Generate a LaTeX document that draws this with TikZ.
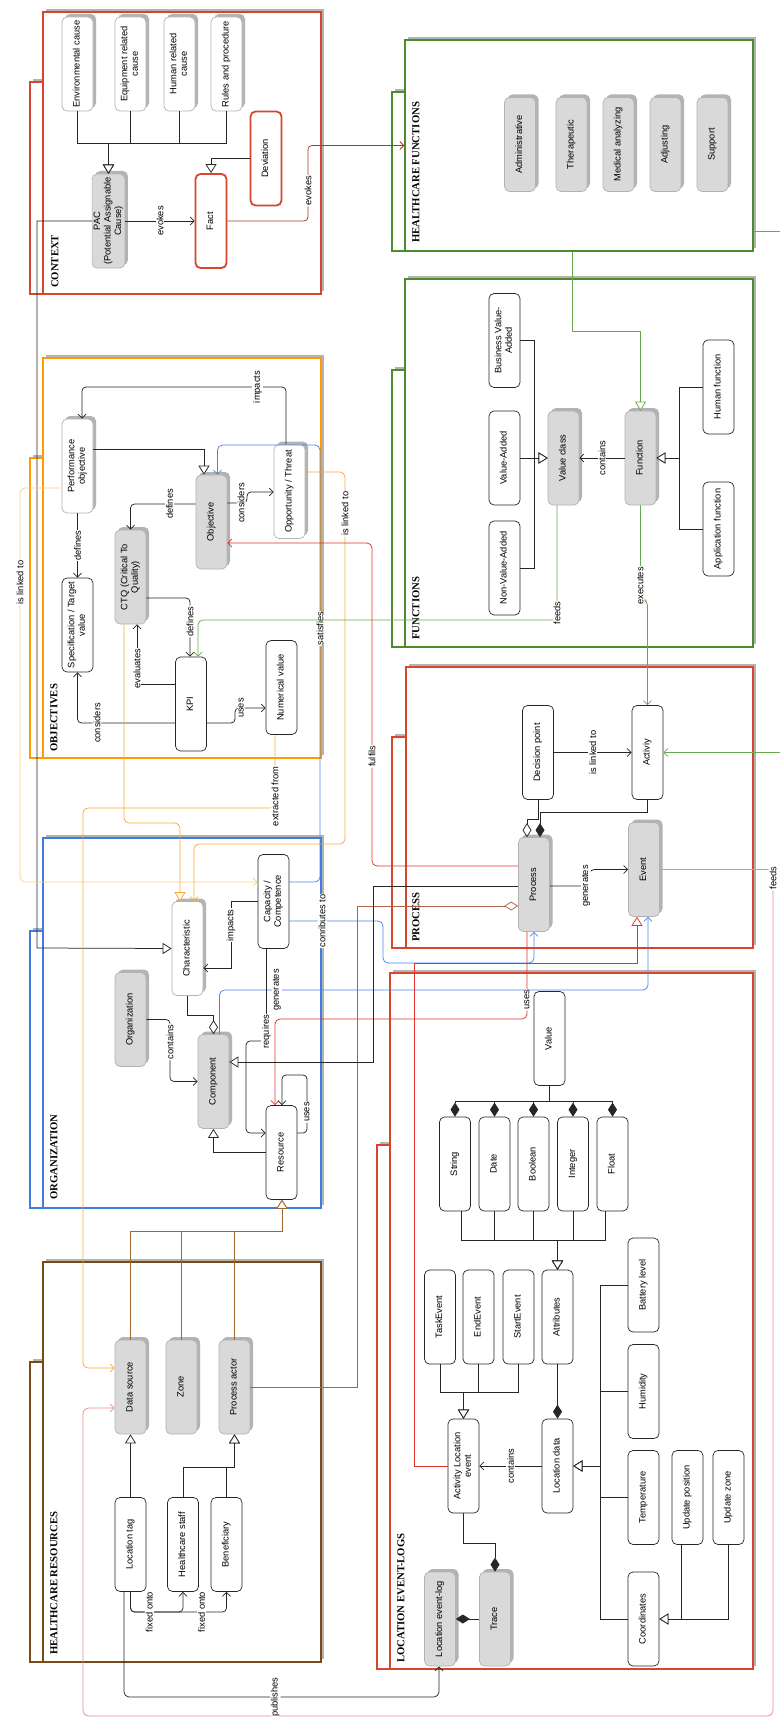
\documentclass[tikz,border=0pt]{standalone}
\usepackage{fontspec}
\setmainfont{Liberation Sans}
\newfontfamily\lanefont{Liberation Serif}
\usepackage{graphicx}
\usetikzlibrary{arrows.meta,shadows}
\definecolor{boxred}{HTML}{D6452C}
\definecolor{boxgreen}{HTML}{4E8A2E}
\definecolor{boxblue}{HTML}{3F7CE0}
\definecolor{boxorange}{HTML}{FF9A00}
\definecolor{boxbrown}{HTML}{7A4A14}
\definecolor{lnred}{HTML}{E0342A}
\definecolor{lnlightred}{HTML}{EE8A8A}
\definecolor{lnevokes}{HTML}{A83A2C}
\definecolor{lnbrownred}{HTML}{B0604A}
\definecolor{lngreen}{HTML}{6AA84F}
\definecolor{lnblue}{HTML}{4A86E8}
\definecolor{lnorange}{HTML}{FFA833}
\definecolor{lnlightorange}{HTML}{FFCB80}
\definecolor{lnbrown}{HTML}{A0672D}
\definecolor{nodegray}{HTML}{D9D9D9}
\definecolor{boxshade}{HTML}{B3B3B3}
\newcommand{\nodefont}{\fontsize{9.3}{10.6}\selectfont}
\newcommand{\rottext}[1]{\rotatebox{90}{\begin{tabular}{@{}c@{}}#1\end{tabular}}}

\begin{document}
\begin{tikzpicture}[x=1pt, y=-1pt, font=\nodefont,
    ent/.style={draw=black!85, fill=white, rounded corners=5pt, line width=0.7pt, minimum width=31pt, minimum height=94pt, inner sep=0.5pt},
    shent/.style={ent, draw=black!30, drop shadow={shadow xshift=3pt, shadow yshift=3pt, fill=boxshade, opacity=1}},
    grent/.style={shent, fill=nodegray},
    redent/.style={ent, draw=boxred, line width=1.8pt},
    lane/.style={draw=#1, fill=white, line width=1.4pt, inner sep=0pt, drop shadow={shadow xshift=3pt, shadow yshift=3pt, fill=boxshade, opacity=1}},
    lanetitle/.style={rotate=90, anchor=west, inner sep=0pt, font=\lanefont\bfseries\fontsize{10.7}{12}\selectfont},
    lbl/.style={fill=white, text=black, inner sep=1pt, rotate=90},
    assoc/.style={line width=0.75pt, draw=black!85, -{Straight Barb[length=4pt,width=8pt]}},
    gen/.style={line width=0.75pt, draw=black!85, -{Triangle[length=9pt,width=11pt,fill=white]}},
    aggr/.style={line width=0.75pt, draw=black!85, -{Diamond[length=14pt,width=9pt,fill=white]}},
    comp/.style={line width=0.75pt, draw=black!85, -{Diamond[length=14pt,width=9pt]}}]
    \useasboundingbox (0,0) rectangle (779,1720);

    \node[lane=boxred, minimum width=13pt, minimum height=212pt] (ctxtab) at (36.5,188) {};
    \node[lane=boxred, minimum width=278pt, minimum height=282pt] (ctxlane) at (182,153) {};
    \node[lanetitle] (ctxtitle) at (55,288) {CONTEXT};
    \node[lane=boxorange, minimum width=13pt, minimum height=300pt] (objtab) at (36.5,608) {};
    \node[lane=boxorange, minimum width=278pt, minimum height=400pt] (objlane) at (182,558) {};
    \node[lanetitle] (objtitle) at (54,752) {OBJECTIVES};
    \node[lane=boxblue, minimum width=13pt, minimum height=277pt] (orgtab) at (36.5,1069.5) {};
    \node[lane=boxblue, minimum width=278pt, minimum height=370pt] (orglane) at (182,1023) {};
    \node[lanetitle] (orgtitle) at (54,1200) {ORGANIZATION};
    \node[lane=boxbrown, minimum width=13pt, minimum height=300pt] (hrtab) at (36.5,1512) {};
    \node[lane=boxbrown, minimum width=278pt, minimum height=400pt] (hrlane) at (182,1462) {};
    \node[lanetitle] (hrtitle) at (54,1655) {HEALTHCARE RESOURCES};
    \node[lane=boxgreen, minimum width=13pt, minimum height=159pt] (hftab) at (398.5,171.5) {};
    \node[lane=boxgreen, minimum width=348pt, minimum height=211pt] (hflane) at (579,145.5) {};
    \node[lanetitle] (hftitle) at (416,243) {HEALTHCARE FUNCTIONS};
    \node[lane=boxgreen, minimum width=13pt, minimum height=277pt] (funtab) at (398.5,508.5) {};
    \node[lane=boxgreen, minimum width=348pt, minimum height=368pt] (funlane) at (579,463) {};
    \node[lanetitle] (funtitle) at (416,640) {FUNCTIONS};
    \node[lane=boxred, minimum width=14pt, minimum height=211pt] (proctab) at (399,842.5) {};
    \node[lane=boxred, minimum width=347pt, minimum height=281pt] (proclane) at (579.5,807.5) {};
    \node[lanetitle] (proctitle) at (416,942) {PROCESS};
    \node[lane=boxred, minimum width=13pt, minimum height=524pt] (leltab) at (383.5,1407) {};
    \node[lane=boxred, minimum width=363pt, minimum height=696pt] (lellane) at (571.5,1321) {};
    \node[lanetitle] (leltitle) at (401,1663) {LOCATION EVENT-LOGS};

    \node[shent] (envc) at (77.5,64) {\rottext{Environmental cause}};
    \node[shent] (equc) at (130.5,64) {\rottext{Equipment related\\cause}};
    \node[shent] (humc) at (179.5,64) {\rottext{Human related\\cause}};
    \node[shent] (rulc) at (226.5,64) {\rottext{Rules and procedure}};
    \node[grent] (pac) at (108.5,221) {\rottext{PAC\\(Potential Assignable\\Cause)}};
    \node[redent] (fact) at (211,221) {\rottext{Fact}};
    \node[redent] (dev) at (266,158.5) {\rottext{Deviation}};

    \node[shent] (perf) at (77.5,466) {\rottext{Performance\\objective}};
    \node[grent] (obj) at (211.5,522) {\rottext{Objective}};
    \node[shent] (opp) at (289.5,491.5) {\rottext{Opportunity / Threat}};
    \node[grent] (ctq) at (130.5,577) {\rottext{CTQ (Critical To\\Quality)}};
    \node[ent] (spec) at (77.5,625) {\rottext{Specification / Target\\value}};
    \node[ent] (kpi) at (191,704) {\rottext{KPI}};
    \node[ent] (numv) at (281.5,687.5) {\rottext{Numerical value}};

    \node[shent] (char) at (187.5,948.5) {\rottext{Characteristic}};
    \node[ent] (cap) at (273.5,901.5) {\rottext{Capacity /\\Competence}};
    \node[grent] (org) at (130.5,1019.5) {\rottext{Organization}};
    \node[grent] (component) at (213.5,1081.5) {\rottext{Component}};
    \node[ent] (res) at (281.5,1152.5) {\rottext{Resource}};

    \node[grent] (dsrc) at (130.5,1387) {\rottext{Data source}};
    \node[grent] (zone) at (181.5,1387) {\rottext{Zone}};
    \node[grent] (pact) at (234.5,1387) {\rottext{Process actor}};
    \node[ent] (ltag) at (130.5,1544.5) {\rottext{Location tag}};
    \node[ent] (hstaff) at (183,1544.5) {\rottext{Healthcare staff}};
    \node[ent] (benef) at (226.5,1544.5) {\rottext{Beneficiary}};

    \node[grent] (admin) at (520,144.5) {\rottext{Administrative}};
    \node[grent] (thera) at (571.5,144.5) {\rottext{Therapeutic}};
    \node[grent] (medan) at (618.5,144.5) {\rottext{Medical analyzing}};
    \node[grent] (adjust) at (665.5,144.5) {\rottext{Adjusting}};
    \node[grent] (support) at (712.5,144.5) {\rottext{Support}};

    \node[ent] (bva) at (504.5,340.5) {\rottext{Business Value-\\Added}};
    \node[ent] (va) at (504.5,458) {\rottext{Value-Added}};
    \node[ent] (nva) at (504.5,568) {\rottext{Non-Value-Added}};
    \node[grent] (vclass) at (563.5,458) {\rottext{Value class}};
    \node[grent] (func) at (640.5,458) {\rottext{Function}};
    \node[ent] (humf) at (718.5,387) {\rottext{Human function}};
    \node[ent] (appf) at (718.5,529) {\rottext{Application function}};

    \node[ent] (decp) at (538,752.5) {\rottext{Decision point}};
    \node[ent] (activ) at (647.5,752.5) {\rottext{Activiy}};
    \node[grent] (proc) at (534,884.5) {\rottext{Process}};
    \node[grent] (event) at (644,869.5) {\rottext{Event}};

    \node[ent] (value) at (549.5,1038.5) {\rottext{Value}};
    \node[ent] (vstr) at (455,1164) {\rottext{String}};
    \node[ent] (vdate) at (494.5,1164) {\rottext{Date}};
    \node[ent] (vbool) at (533.5,1164) {\rottext{Boolean}};
    \node[ent] (vint) at (573,1164) {\rottext{Integer}};
    \node[ent] (vflt) at (612.5,1164) {\rottext{Float}};
    \node[ent] (taskev) at (440,1317) {\rottext{TaskEvent}};
    \node[ent] (endev) at (478.5,1317) {\rottext{EndEvent}};
    \node[ent] (startev) at (518.5,1317) {\rottext{StartEvent}};
    \node[ent] (attrs) at (557.5,1317) {\rottext{Attributes}};
    \node[ent] (batt) at (643.5,1285) {\rottext{Battery level}};
    \node[ent] (humid) at (643.5,1391.5) {\rottext{Humidity}};
    \node[ent] (temp) at (643.5,1497.5) {\rottext{Temperature}};
    \node[ent] (updpos) at (687.5,1497.5) {\rottext{Update position}};
    \node[ent] (updzone) at (728.5,1497.5) {\rottext{Update zone}};
    \node[ent] (coord) at (643.5,1619) {\rottext{Coordinates}};
    \node[ent] (ale) at (463.5,1466) {\rottext{Activity Location\\event}};
    \node[ent] (locd) at (557.5,1466) {\rottext{Location data}};
    \node[grent] (lel) at (440,1619) {\rottext{Location event-log}};
    \node[grent] (trace) at (495,1619) {\rottext{Trace}};

    \foreach \c in {envc,equc,humc,rulc}
        \draw[gen] (\c.south) |- (108.5,143) -- (pac.north);
    \draw[gen] (dev.west) -| (fact.north);
    \draw[assoc] (pac) -- node[lbl]{evokes} (fact);
    \draw[assoc, lnevokes, rounded corners=4pt] (fact.east) -- (308,221) |- node[lbl, pos=0.2]{evokes} (hflane.west);
    \draw[gen] (pac.west) -| (37,948) -- (char.west);

    \draw[gen] (perf.east |- 0,449) -| (obj.north -| 204,0);
    \draw[assoc, rounded corners=4pt] (opp.north -| 286,0) |- node[lbl, pos=0.57]{impacts} (82,387) -- (perf.north -| 82,0);
    \draw[assoc, rounded corners=4pt] (obj.east |- 0,503) -- node[lbl, pos=0.7]{considers} (247,503) |- (opp.west |- 0,492);
    \draw[assoc, rounded corners=4pt] (obj.west |- 0,504) -| node[lbl, pos=0.2]{defines} (ctq.north);
    \draw[assoc] (perf) -- node[lbl]{defines} (spec);
    \draw[assoc, rounded corners=4pt] (ctq.east |- 0,598) -| node[lbl, pos=0.7]{defines} (kpi.north -| 190,0);
    \draw[assoc] (kpi.west |- 0,684) -| node[lbl, pos=0.63]{evaluates} (ctq.south -| 137,0);
    \draw[assoc, rounded corners=4pt] (kpi.west |- 0,723) -| node[lbl, pos=0.4]{considers} (spec.south);
    \draw[assoc, rounded corners=4pt] (kpi.east |- 0,723) -- (235,723) |- node[lbl, pos=0.6]{uses} (numv.west |- 0,708);

    \draw[assoc, lnorange, rounded corners=5pt] (numv.south -| 275,0) |- node[lbl, pos=0.42]{extracted from} (83,808) |- (dsrc.west |- 0,1368);
    \draw[gen, lnorange, rounded corners=5pt] (ctq.south -| 124,0) |- (180,823) -- (char.north -| 180,0);
    \draw[assoc, lnorange, rounded corners=5pt] (opp.east |- 0,472) -- (345,472) |- node[lbl, pos=0.056]{is linked to} (194,844) -- (char.north -| 194,0);
    \draw[assoc, lnlightorange, rounded corners=5pt] (perf.west |- 0,488) -| node[lbl, pos=0.62]{is linked to} (20,882) -- (cap.west |- 0,882);

    \draw[assoc, lnblue, rounded corners=5pt] (cap.east |- 0,882) -- (320,882) |- node[lbl, pos=0.29]{satisfies} (217.5,445) -- (obj.north -| 217.5,0);
    \draw[assoc, lnblue, rounded corners=5pt] (cap.east |- 0,921) -- node[lbl, pos=0.35]{conributes to} (383,921) |- (534,963) -- (proc.south);
    \draw[assoc, lnblue, rounded corners=5pt] (component.north -| 219.5,0) |- node[lbl, pos=0.567]{generates} (648,990) -- (event.south -| 648,0);

    \draw[assoc, lnred, rounded corners=5pt] (proc.west |- 0,866) -| node[lbl, pos=0.67]{fulfils} (372,543) -- (obj.east |- 0,543);
    \draw[assoc, lnred, rounded corners=5pt] (proc.south -| 527,0) |- node[lbl, pos=0.39]{uses} (275,1019) -- (res.north -| 275,0);
    \draw[gen, lnred] (ale.west) -| (414,963) -| (event.south -| 637,0);
    \draw[assoc, lnlightred, rounded corners=6pt] (event.east) -- (773,869.5) -- node[lbl, pos=0.01]{feeds} (773,1716) -- (83,1716) |- (dsrc.west |- 0,1408);
    \draw[aggr, lnbrownred] (pact.east) -| (357,906) -- (proc.west |- 0,906);

    \draw[gen, lngreen] (hflane.south -| 572,0) |- (640.5,331) -- (func.north);
    \draw[assoc, lngreen] (hflane.east |- 0,231) -- (785,231) |- (activ.east);
    \draw[assoc, lngreen, rounded corners=5pt] (vclass.south -| 557,0) |- node[lbl, pos=0.47]{feeds} (198,620) -- (kpi.north -| 198,0);
    \draw[assoc, lngreen, rounded corners=5pt] (func.south) -- node[lbl, pos=0.85]{executes} (640.5,600) -| (activ.north);

    \draw[gen] (bva.east) -| (534,458) -- (vclass.west);
    \draw[gen] (va) -- (vclass);
    \draw[gen] (nva.east) -| (534,458) -- (vclass.west);
    \draw[assoc] (func) -- node[lbl]{contains} (vclass);
    \draw[gen] (humf.west) -| (679,458) -- (func.east);
    \draw[gen] (appf.west) -| (679,458) -- (func.east);

    \draw[assoc] (decp) -- node[lbl]{is linked to} (activ);
    \draw[aggr] (decp.south) |- (527,819) -- (proc.north -| 527,0);
    \draw[comp] (activ.south) |- (540,812) -- (proc.north -| 540,0);
    \draw[assoc, rounded corners=4pt] (proc.east |- 0,886) -- node[lbl, pos=0.9]{generates} (590,886) |- (event.west);
    \draw[gen] (proc.west |- 0,886) -| (373,1062) -- (component.east |- 0,1062);

    \draw[assoc] (cap.west) -| node[lbl, pos=0.68]{impacts} (231,968) -- (char.east |- 0,968);
    \draw[aggr] (char.south) |- (213.5,1015) -- (component.north);
    \draw[assoc, rounded corners=4pt] (org.east) -| node[lbl, pos=0.68]{contains} (170,1081.5) -- (component.west);
    \draw[gen] (res.west) -| (component.south);
    \draw[assoc, rounded corners=4pt] (cap.south -| 266.5,0) -- node[lbl, pos=0.9]{requires} (266.5,1041) -| (246,1133) -- (res.west |- 0,1133);
    \draw[assoc, rounded corners=4pt] (res.east |- 0,1133) -- (307,1133) |- node[lbl, pos=0.18]{uses} (282,1075) -- (res.north -| 282,0);

    \foreach \n in {dsrc,zone,pact}
        \draw[gen, lnbrown] (\n.north) |- (282,1231) -- (res.south -| 282,0);
    \draw[gen] (ltag) -- (dsrc);
    \draw[gen] (hstaff.north) |- (234.5,1467) -- (pact.south);
    \draw[gen] (benef.north) |- (234.5,1467) -- (pact.south);
    \draw[assoc, rounded corners=4pt] (ltag.south) |- node[lbl, pos=0.87]{fixed onto} (226.5,1612) -- (benef.south);
    \draw[assoc, rounded corners=4pt] (ltag.south) |- node[lbl, pos=0.68]{fixed onto} (183,1612) -- (hstaff.south);
    \draw[assoc, rounded corners=5pt] (ltag.south -| 124,0) |- node[lbl, pos=0.74]{publishes} (439,1697) -- (lel.south -| 439,0);

    \foreach \n in {vstr,vdate,vbool,vint,vflt}
        \draw[comp] (value.south) |- (\n.north |- 0,1101) -- (\n.north);
    \foreach \n/\x in {vstr/461.5,vdate/494.5,vbool/533.5,vint/573,vflt/605.5}
        \draw[gen] (\n.south -| \x,0) |- (557.5,1240) -- (attrs.north);
    \foreach \n in {taskev,endev,startev}
        \draw[gen] (\n.south) |- (463.5,1392) -- (ale.north);
    \draw[comp] (attrs) -- (locd);
    \draw[assoc] (locd) -- node[lbl]{contains} (ale);
    \foreach \n in {batt,humid,temp,coord}
        \draw[gen] (\n.west) -| (600,1466) -- (locd.east);
    \draw[gen] (updpos.south -| 681,0) |- (coord.east);
    \draw[gen] (updzone.south) |- (coord.east);
    \draw[comp] (ale.south) |- (495,1543) -- (trace.north);
    \draw[comp] (trace) -- (lel);
\end{tikzpicture}
\end{document}
